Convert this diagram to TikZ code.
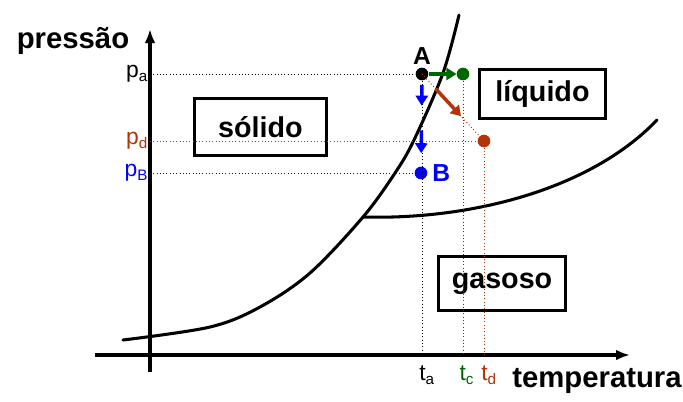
\documentclass[tikz,border=0pt]{standalone}
\usepackage{fontspec}
\setmainfont{Liberation Sans}
\usetikzlibrary{arrows.meta,positioning,calc}
\definecolor{rust}{RGB}{178,52,8}
\definecolor{leaf}{RGB}{0,102,0}
\definecolor{pblue}{RGB}{0,0,255}
\tikzset{
  axis/.style={line width=3.3pt, -{Latex[length=4.2mm,width=3.2mm]}},
  phase/.style={line width=2.6pt, line cap=round},
  region/.style={draw, line width=2.6pt, inner sep=0pt,
                 font=\fontsize{24.5}{28}\selectfont\bfseries},
  guide/.style={dotted, line width=0.8pt},
  state/.style={circle, fill, inner sep=0pt, minimum size=3.8mm},
  move/.style={line width=3pt, -{Triangle[length=3mm,width=3.6mm]}},
  tick/.style={font=\fontsize{19.5}{22}\selectfont, inner sep=1pt},
  ptname/.style={font=\fontsize{21}{24}\selectfont\bfseries, inner sep=0pt},
  axlab/.style={font=\fontsize{25}{28}\selectfont\bfseries, inner sep=0pt},
}
\newcommand{\sublbl}[2]{#1\raisebox{-0.3ex}{\fontsize{13}{13}\selectfont #2}}

\begin{document}
\begin{tikzpicture}[x=0.3mm, y=-0.3mm]
\useasboundingbox (0,0) rectangle (683,401);

% eixos
\coordinate (O) at (150,355);
\draw[axis] (150,372) coordinate (ybot) -- (150,29) coordinate (ytop);
\draw[axis] (95,355) coordinate (xl) -- (630,355) coordinate (xr);
\node[axlab, anchor=base] (plab) at (73,48) {pressão};
\node[axlab, anchor=base] (tlab) at (597,387) {temperatura};

% curvas de equilibrio
\coordinate (tp) at (363,217);
\draw[phase] plot[smooth, tension=0.55] coordinates {(123,340) (210,327)
  (260,307) (310,273) (tp) (395,173) (414,140) (443,73) (459,15)};
\draw[phase] (tp) .. controls (470,220) and (590,190) .. (657,120);

% regioes
\node[region, minimum width=39.6mm, minimum height=17.1mm] (sol) at (260.5,127) {sólido};
\node[region, minimum width=37.8mm, minimum height=14.7mm] (liq) at (542.5,94) {líquido};
\node[region, minimum width=38.1mm, minimum height=16.2mm] (gas) at (502,283.5) {gasoso};

% estados
\node[state] (A) at (422,74) {};
\node[state, leaf] (C) at (463,74) {};
\node[state, rust] (D) at (484,141) {};
\node[state, pblue] (B) at (421,173) {};
\node[ptname, above=2pt of A] (Alab) {A};
\node[ptname, pblue, right=4pt of B] (Blab) {B};

\coordinate (ya) at (O |- A);
\coordinate (yd) at (O |- D);
\coordinate (yb) at (O |- B);
\coordinate (xa) at (A |- O);
\coordinate (xc) at (C |- O);
\coordinate (xd) at (D |- O);

% linhas de chamada
\draw[guide] (ya) -- (A);
\draw[guide, rust] (yd) -- (D);
\draw[guide, pblue] (yb) -- (B);
\draw[guide] (A.center) -- (xa);
\draw[guide, leaf] (C.center) -- (xc);
\draw[guide, rust] (D.center) -- (xd);
\draw[guide, rust] (A.center) -- (D);

% transformacoes
\draw[move, leaf] (A) -- (C);
\draw[move, pblue] ($(A)!0.11!(B)$) -- ($(A)!0.32!(B)$);
\draw[move, pblue] ($(A)!0.57!(B)$) -- ($(A)!0.80!(B)$);
\draw[move, rust] ($(A)!0.22!(D)$) -- ($(A)!0.63!(D)$);

% rotulos dos eixos
\node[tick, left=1pt of ya] (pa) {\sublbl{p}{a}};
\node[tick, rust, left=1pt of yd] (pd) {\sublbl{p}{d}};
\node[tick, pblue, left=1pt of yb] (pb) {\sublbl{p}{B}};
\node[tick, below=8pt of xa, xshift=4pt] (ta) {\sublbl{t}{a}};
\node[tick, leaf, below=8pt of xc, xshift=3pt] (tc) {\sublbl{t}{c}};
\node[tick, rust, below=8pt of xd, xshift=4pt] (td) {\sublbl{t}{d}};

\end{tikzpicture}
\end{document}
